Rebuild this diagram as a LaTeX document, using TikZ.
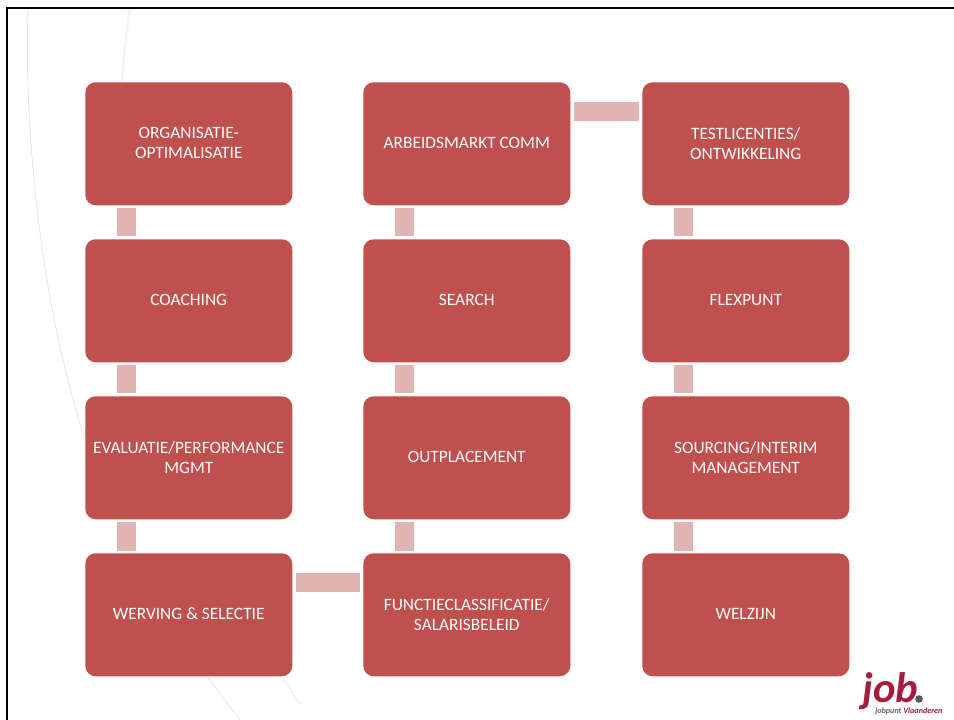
\documentclass[tikz,border=0pt]{standalone}
\usepackage{fontspec}
\setmainfont{Carlito}
\definecolor{boxred}{HTML}{C0504D}
\definecolor{linkpink}{HTML}{DFB4B3}
\definecolor{logored}{HTML}{A61C3C}
\definecolor{swoosh}{HTML}{E6E6E6}
\tikzset{
  card/.style={fill=boxred,draw=none,rounded corners=10.5*0.75pt,minimum width=207*0.75pt,minimum height=123*0.75pt,
    text=white,align=center,inner sep=0pt,text depth=1.1pt,font=\fontsize{13pt}{15pt}\selectfont,anchor=north west},
  vlink/.style={draw=linkpink,line width=19*0.75pt,shorten >=2.5*0.75pt,shorten <=2*0.75pt},
  hlink/.style={draw=linkpink,line width=19*0.75pt,shorten >=3*0.75pt,shorten <=3*0.75pt},
  curve/.style={draw=swoosh,line width=0.6pt}
}
\begin{document}
\begin{tikzpicture}[x=0.75pt,y=-0.75pt]
\useasboundingbox (0,0) rectangle (954,720);
\fill[white] (0,0) rectangle (954,720);
% background swooshes
\draw[curve] (28,9) .. controls (24,130) and (40,300) .. (84,436);
\draw[curve] (208,678) -- (240,720);
\draw[draw=swoosh!45,line width=2pt] (130,9) .. controls (126,35) and (123,60) .. (122,81);
\draw[draw=swoosh!70,line width=0.8pt] (283,678) -- (300,704);
% frame
\draw[line width=1.6pt,black] (7,720) -- (7,8) -- (954,8);
% cards
\node[card] (a1) at (85,82) {ORGANISATIE-\\OPTIMALISATIE};
\node[card] (a2) at (85,239) {COACHING};
\node[card] (a3) at (85,396) {EVALUATIE/PERFORMANCE\\MGMT};
\node[card] (a4) at (85,553) {WERVING \& SELECTIE};
\node[card] (b1) at (363,82) {ARBEIDSMARKT COMM};
\node[card] (b2) at (363,239) {SEARCH};
\node[card] (b3) at (363,396) {OUTPLACEMENT};
\node[card] (b4) at (363,553) {FUNCTIECLASSIFICATIE/\\SALARISBELEID};
\node[card] (c1) at (642,82) {TESTLICENTIES/\\ONTWIKKELING};
\node[card] (c2) at (642,239) {FLEXPUNT};
\node[card] (c3) at (642,396) {SOURCING/INTERIM\\MANAGEMENT};
\node[card] (c4) at (642,553) {WELZIJN};
% links
\foreach \p/\q in {a1/a2,a2/a3,a3/a4,b1/b2,b2/b3,b3/b4,c1/c2,c2/c3,c3/c4}{
  \draw[vlink] ([xshift=41.5*0.75pt]\p.south west) -- ([xshift=41.5*0.75pt]\q.north west);
}
\draw[hlink] ([yshift=-29.5*0.75pt]b1.north east) -- ([yshift=-29.5*0.75pt]c1.north west);
\draw[hlink] ([yshift=-29.5*0.75pt]a4.north east) -- ([yshift=-29.5*0.75pt]b4.north west);
% logo
\node[inner sep=0pt,anchor=base west,text depth=0pt,text=logored,font=\fontsize{32pt}{32pt}\selectfont\bfseries\itshape] (logo) at (862,702) {job};
\fill[black!65] (919,699) circle (3.8*0.75pt);
\node[inner sep=0pt,anchor=base west,font=\fontsize{6.1pt}{7pt}\selectfont\bfseries\itshape] (logotag) at (875,713) {\textcolor{black!60}{jobpunt} \textcolor{logored}{Vlaanderen}};
\end{tikzpicture}
\end{document}
